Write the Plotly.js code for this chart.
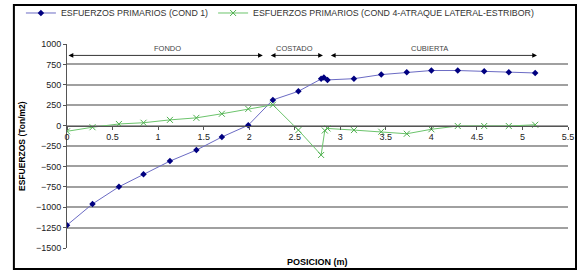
<!DOCTYPE html>
<html><head><meta charset="utf-8">
<script src="https://cdn.plot.ly/plotly-3.0.1.min.js"></script>
<style>html,body{margin:0;padding:0;background:#fff}#chart{width:577px;height:271px}</style>
</head><body><div id="chart"></div>
<script>
// Data
const xCond1 = [0, 0.28, 0.57, 0.84, 1.13, 1.42, 1.70, 1.99, 2.26, 2.54, 2.79, 2.82, 2.86, 3.15, 3.45, 3.73, 4.00, 4.29, 4.58, 4.85, 5.14];
const yCond1 = [-1220, -960, -750, -595, -435, -300, -140, 5, 315, 420, 575, 590, 560, 575, 625, 655, 675, 675, 665, 655, 645];
const xCond4 = [0, 0.28, 0.57, 0.84, 1.13, 1.42, 1.70, 1.99, 2.26, 2.54, 2.79, 2.83, 2.86, 3.15, 3.45, 3.73, 4.00, 4.29, 4.58, 4.85, 5.14];
const yCond4 = [-70, -20, 20, 35, 70, 95, 145, 205, 255, -55, -360, -60, -35, -55, -75, -100, -45, -5, -5, -5, 10];
const seriesNames = ["ESFUERZOS PRIMARIOS (COND 1)", "ESFUERZOS PRIMARIOS (COND 4-ATRAQUE LATERAL-ESTRIBOR)"];
const xTickVals = [0, 0.5, 1, 1.5, 2, 2.5, 3, 3.5, 4, 4.5, 5, 5.5];
const xTickText = ["0", "0.5", "1", "1.5", "2", "2.5", "3", "3.5", "4", "4.5", "5", "5.5"];
const yTickVals = [1000, 750, 500, 250, 0, -250, -500, -750, -1000, -1250, -1500];
const zoneNames = ["FONDO", "COSTADO", "CUBIERTA"];
const zoneStart = [0, 2.22, 2.88];
const zoneEnd = [2.15, 2.81, 5.16];
const zoneLabelX = [1.1, 2.5, 3.98];
const zoneArrowY = 860;
const zoneLabelY = 945;

const FONT = "Arial, 'Liberation Sans', sans-serif";

const traces = [
  {x: xCond1, y: yCond1, name: seriesNames[0], type: 'scatter', mode: 'lines+markers',
   line: {color: '#6b6bc4', width: 1},
   marker: {symbol: 'diamond', size: 5, color: '#000080'}},
  {x: xCond4, y: yCond4, name: seriesNames[1], type: 'scatter', mode: 'lines+markers',
   line: {color: '#6cc46c', width: 1},
   marker: {symbol: 'x-thin-open', size: 6, color: '#4fb04f', line: {width: 1, color: '#4fb04f'}}}
];

const annotations = [];
for (let i = 0; i < zoneNames.length; i++) {
  annotations.push({x: zoneEnd[i], y: zoneArrowY, ax: zoneStart[i], ay: zoneArrowY,
    xref: 'x', yref: 'y', axref: 'x', ayref: 'y', text: '', showarrow: true,
    arrowside: 'end+start', arrowhead: 2, arrowsize: 1.2, arrowwidth: 0.8, arrowcolor: '#000',
    standoff: 0, startstandoff: 0});
  annotations.push({x: zoneLabelX[i], y: zoneLabelY, xref: 'x', yref: 'y', text: zoneNames[i],
    showarrow: false, font: {family: FONT, size: 7.5, color: '#444'}});
}
annotations.push({x: -0.09, y: 0.5, xref: 'paper', yref: 'paper', xanchor: 'center', yanchor: 'middle',
  text: '<b>ESFUERZOS (Ton/m2)</b>',
  textangle: -90, showarrow: false, font: {family: FONT, size: 8.5, color: '#000'}});
annotations.push({x: 0.5, y: -0.07, xref: 'paper', yref: 'paper', xanchor: 'center', yanchor: 'middle',
  text: '<b>POSICION (m)</b>',
  showarrow: false, font: {family: FONT, size: 9, color: '#000'}});

const layout = {
  width: 577, height: 271,
  margin: {l: 67, r: 9, t: 44, b: 23, pad: 0, autoexpand: false},
  paper_bgcolor: '#fff', plot_bgcolor: '#fff',
  font: {family: FONT, size: 8, color: '#222'},
  showlegend: true,
  legend: {orientation: 'h', x: -0.092, xanchor: 'left', y: 1.152, yanchor: 'middle',
    font: {family: FONT, size: 8.8, color: '#333'}, bgcolor: 'rgba(0,0,0,0)', itemwidth: 30,
    tracegroupgap: 0},
  xaxis: {range: [0, 5.5], tickmode: 'array', tickvals: xTickVals, ticktext: xTickText,
    anchor: 'free', position: 0.6, showgrid: false, zeroline: false, automargin: false,
    showline: true, linecolor: '#555', linewidth: 1, ticks: 'outside', ticklen: 3, tickcolor: '#555',
    tickfont: {family: FONT, size: 9, color: '#222'}},
  yaxis: {range: [-1500, 1000], tickmode: 'array', tickvals: yTickVals, automargin: false,
    showgrid: true, gridcolor: '#a0a0a0', gridwidth: 2, zeroline: false,
    showline: true, linecolor: '#555', linewidth: 1, ticks: 'outside', ticklen: 3, tickcolor: '#555',
    tickfont: {family: FONT, size: 9, color: '#222'}},
  shapes: [{type: 'rect', xref: 'paper', yref: 'paper', x0: -0.106, x1: 1.016, y0: -0.103, y1: 1.191,
    line: {color: '#000', width: 2}}],
  annotations: annotations
};

Plotly.newPlot('chart', traces, layout, {displayModeBar: false, staticPlot: true});
</script></body></html>
